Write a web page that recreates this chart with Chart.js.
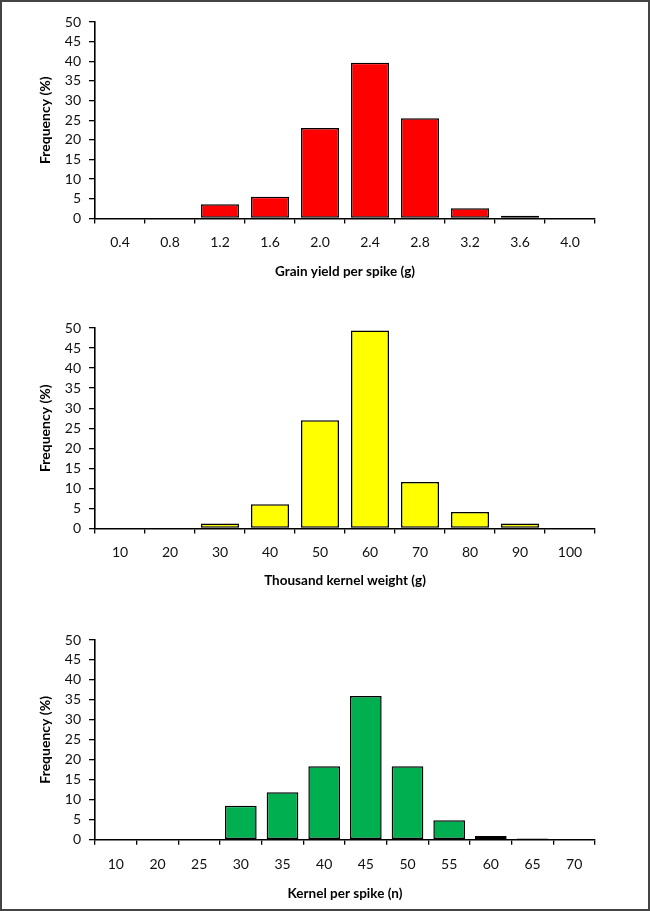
<!DOCTYPE html>
<html>
<head>
<meta charset="utf-8">
<script src="https://cdn.jsdelivr.net/npm/chart.js@4"></script>
<style>
  body { margin: 0; background: #fff; }
  .frame { position: absolute; left: 0; top: 0; width: 650px; height: 911px; box-sizing: border-box; border: 2px solid #444; }
  .box { position: absolute; left: 0; width: 650px; }
</style>
</head>
<body>
<div class="frame"></div>
<div class="box" id="box1"><canvas id="grainChart"></canvas></div>
<div class="box" id="box2"><canvas id="tkwChart"></canvas></div>
<div class="box" id="box3"><canvas id="kernelChart"></canvas></div>
<script>
// Grain yield per spike (g)
const grainLabels = ['0.4', '0.8', '1.2', '1.6', '2.0', '2.4', '2.8', '3.2', '3.6', '4.0'];
const grainFreq = [0, 0, 3.6, 5.5, 23.0, 39.6, 25.5, 2.6, 0.7, 0];

// Thousand kernel weight (g)
const tkwLabels = ['10', '20', '30', '40', '50', '60', '70', '80', '90', '100'];
const tkwFreq = [0, 0, 1.2, 6.0, 27.0, 49.4, 11.6, 4.1, 1.2, 0];

// Kernel per spike (n)
const kernelLabels = ['10', '20', '25', '30', '35', '40', '45', '50', '55', '60', '65', '70'];
const kernelFreq = [0, 0, 0, 8.5, 11.9, 18.4, 36.0, 18.4, 4.9, 0.9, 0.3, 0];

const yTitle = 'Frequency (%)';

// plotTop / plotBottom / titleY are page pixel positions of each panel
function makeHistogram(boxId, canvasId, labels, values, color, xTitle, plotTop, plotBottom, titleY) {
    const canvasTop = plotTop - 22;
    const canvasH = Math.round(titleY - canvasTop + 10);
    const box = document.getElementById(boxId);
    box.style.top = canvasTop + 'px';
    box.style.height = canvasH + 'px';
    const canvas = document.getElementById(canvasId);
    canvas.width = 650;
    canvas.height = canvasH;
    const xHeight = canvasH - (plotBottom - canvasTop);

    new Chart(canvas.getContext('2d'), {
        type: 'bar',
        data: {
            labels: labels,
            datasets: [{
                data: values,
                backgroundColor: color,
                borderColor: '#000',
                borderWidth: 1.5,
                borderSkipped: false,
                categoryPercentage: 0.76,
                barPercentage: 1
            }]
        },
        options: {
            responsive: false,
            animation: false,
            layout: { padding: { top: 22, left: 33, right: 55, bottom: 0 } },
            plugins: {
                legend: { display: false },
                tooltip: { enabled: false }
            },
            scales: {
                x: {
                    afterFit: (scale) => { scale.height = xHeight; },
                    grid: { drawOnChartArea: false, offset: true, tickLength: 5, color: '#000', lineWidth: 1.3 },
                    border: { color: '#000', width: 1.6 },
                    ticks: { color: '#111', padding: 11, font: { family: 'Lato', size: 14 } },
                    title: {
                        display: true,
                        text: xTitle,
                        color: '#000',
                        padding: { top: 0, bottom: 2 },
                        font: { family: 'Lato', size: 13.5, weight: 'bold' }
                    }
                },
                y: {
                    min: 0,
                    max: 50,
                    afterFit: (scale) => { scale.width = 62; },
                    grid: { drawOnChartArea: false, tickLength: 6, color: '#000', lineWidth: 1.3 },
                    border: { color: '#000', width: 1.6 },
                    ticks: { stepSize: 5, autoSkip: false, color: '#111', padding: 8, font: { family: 'Lato', size: 14 } },
                    title: {
                        display: true,
                        text: yTitle,
                        color: '#000',
                        padding: { top: 4, bottom: 0 },
                        font: { family: 'Lato', size: 14, weight: 'bold' }
                    }
                }
            }
        }
    });
}

makeHistogram('box1', 'grainChart', grainLabels, grainFreq, '#FF0000', 'Grain yield per spike (g)', 22.3, 218.7, 272);
makeHistogram('box2', 'tkwChart', tkwLabels, tkwFreq, '#FFFF00', 'Thousand kernel weight (g)', 328.3, 528.7, 581);
makeHistogram('box3', 'kernelChart', kernelLabels, kernelFreq, '#00B050', 'Kernel per spike (n)', 640, 839.7, 894);
</script>
</body>
</html>
